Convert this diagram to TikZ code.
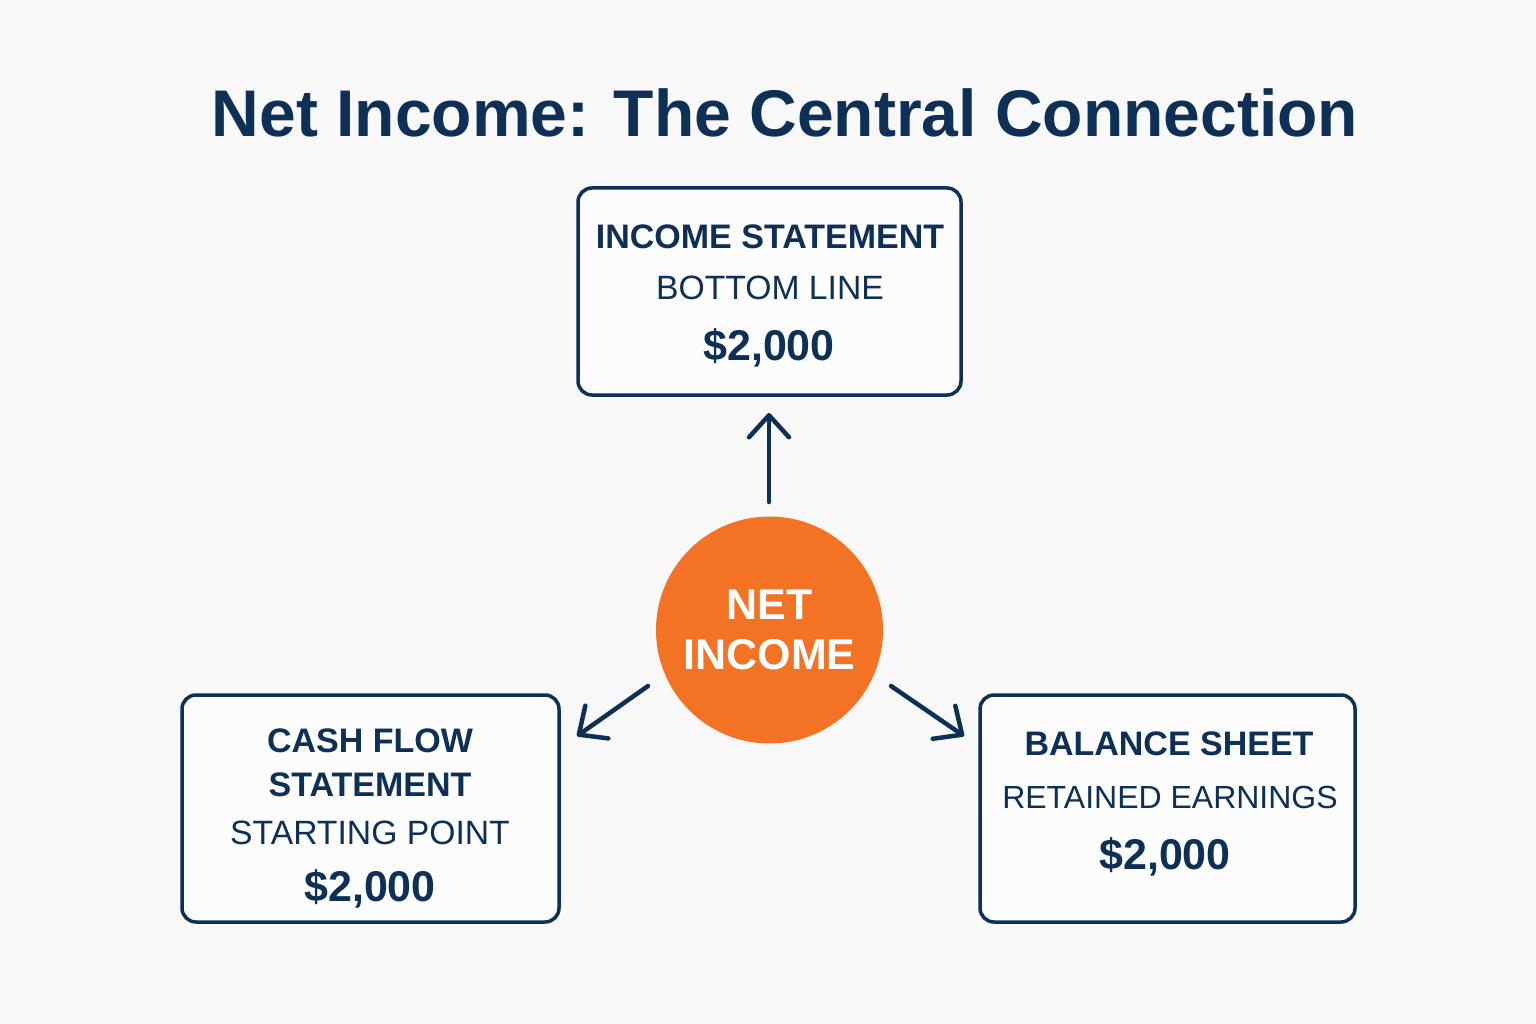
\documentclass[tikz,border=0pt]{standalone}
\usepackage{fontspec}
\setmainfont{Liberation Sans}
\usetikzlibrary{arrows.meta}
\definecolor{navy}{HTML}{0E2F56}
\definecolor{orng}{HTML}{F37224}
\definecolor{bg}{HTML}{F8F8F8}
\tikzset{
  box/.style={draw=navy, line width=3.5pt, rounded corners=14pt, fill=white!60!bg},
  conn/.style={draw=navy, line width=4.5pt, line cap=round,
    -{Straight Barb[length=22pt,width=40pt,round]}},
  hd/.style={font=\bfseries\fontsize{34}{40}\selectfont, text=navy},
  sub/.style={font=\fontsize{33.7}{40}\selectfont, text=navy},
  amt/.style={font=\bfseries\fontsize{43}{48}\selectfont, text=navy},
}
\begin{document}
\begin{tikzpicture}[x=1pt,y=-1pt]
\path[fill=bg] (0,0) rectangle (1536,1024);
\useasboundingbox (0,0) rectangle (1536,1024);
\node[font=\bfseries\fontsize{66}{72}\selectfont, text=navy] (title) at (785,113) {Net Income: The Central Connection};
% boxes
\path[box] (578,188) rectangle (961,395);
\path[box] (182,695) rectangle (559,922);
\path[box] (980,695) rectangle (1355,922);
% texts top
\node[hd] (t1) at (770,237) {INCOME STATEMENT};
\node[sub] (t2) at (770,288) {BOTTOM LINE};
\node[amt] (t3) at (769,348) {\$2,000};
% left
\node[hd] (l1) at (370,741) {CASH FLOW};
\node[hd] (l2) at (370,785) {STATEMENT};
\node[sub] (l3) at (370,833) {STARTING POINT};
\node[amt] (l4) at (370,889) {\$2,000};
% right
\node[hd] (r1) at (1169,744) {BALANCE SHEET};
\node[sub, font=\fontsize{32}{38}\selectfont] (r2) at (1170,797) {RETAINED EARNINGS};
\node[amt] (r3) at (1165,857) {\$2,000};
% circle
\node[circle, fill=orng, minimum size=227pt, inner sep=0pt] (ni) at (769.5,630) {};
\node[font=\bfseries\fontsize{43}{48}\selectfont, text=white] (n1) at (769.5,605) {NET};
\node[font=\bfseries\fontsize{43}{48}\selectfont, text=white] (n2) at (769.5,655) {INCOME};
% arrows
\coordinate (ua) at (769,502);
\coordinate (ub) at (769,413);
\coordinate (la) at (648,686);
\coordinate (lb) at (577,736);
\coordinate (ra) at (891,686);
\coordinate (rb) at (964,736);
\draw[conn] (ua) -- (ub);
\draw[conn] (la) -- (lb);
\draw[conn] (ra) -- (rb);
\end{tikzpicture}
\end{document}
